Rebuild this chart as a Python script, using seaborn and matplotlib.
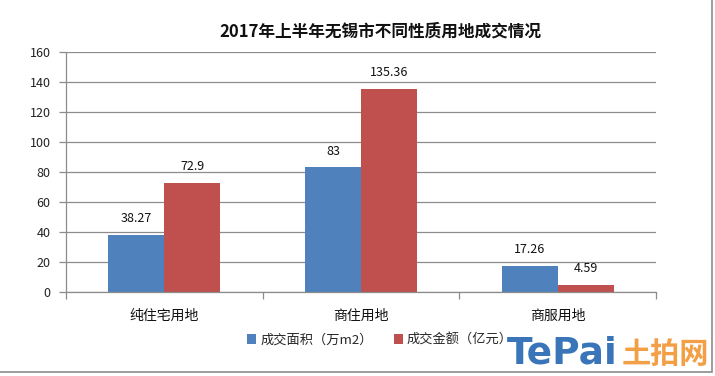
import numpy as np
import pandas as pd
import matplotlib
matplotlib.use("Agg")
import matplotlib.pyplot as plt
import seaborn as sns
from matplotlib.patches import Rectangle

# ==================== 数据 ====================
categories = ["纯住宅用地", "商住用地", "商服用地"]
series_names = ["成交面积（万m2）", "成交金额（亿元）"]
area_values = [38.27, 83, 17.26]
amount_values = [72.9, 135.36, 4.59]
area_labels = ["38.27", "83", "17.26"]
amount_labels = ["72.9", "135.36", "4.59"]
y_ticks = [0, 20, 40, 60, 80, 100, 120, 140, 160]
title = "2017年上半年无锡市不同性质用地成交情况"

colors = ["#4F81BD", "#C0504D"]

sns.set_theme(style="white")
plt.rcParams['font.family'] = ['Noto Sans CJK SC', 'DejaVu Sans']
plt.rcParams['axes.unicode_minus'] = False

df = pd.DataFrame({
    "类别": categories * 2,
    "系列": [series_names[0]] * 3 + [series_names[1]] * 3,
    "值": area_values + amount_values,
})

fig = plt.figure(figsize=(7.15, 3.76), dpi=100)
ax = fig.add_axes([66 / 715, 1 - 292 / 376, 590 / 715, 240 / 376])

sns.barplot(data=df, x="类别", y="值", hue="系列", palette=colors,
            width=0.57, saturation=1, linewidth=0, ax=ax, legend=True)

# 网格与坐标轴
ax.set_ylim(0, 160)
ax.set_xlim(-0.5, 2.5)
ax.set_yticks(y_ticks)
ax.set_yticklabels([str(t) for t in y_ticks], fontsize=9, color="#222222")
ax.yaxis.grid(True, color="#8C8C8C", linewidth=0.9)
ax.set_axisbelow(True)
ax.set_xlabel("")
ax.set_ylabel("")
for side in ["top", "right"]:
    ax.spines[side].set_visible(False)
for side in ["left", "bottom"]:
    ax.spines[side].set_color("#8C8C8C")
    ax.spines[side].set_linewidth(0.9)

ax.tick_params(axis="y", direction="out", length=5, color="#8C8C8C", width=0.9, pad=6, left=True)
ax.set_xticks(range(len(categories)))
ax.set_xticklabels(categories, fontsize=10, color="#111111")
ax.tick_params(axis="x", which="major", length=0, pad=12)
ax.set_xticks([-0.5, 0.5, 1.5, 2.5], minor=True)
ax.tick_params(axis="x", which="minor", direction="out", length=5, color="#8C8C8C", width=0.9, bottom=True)

# 数据标签
for container, labels in zip(ax.containers, [area_labels, amount_labels]):
    ax.bar_label(container, labels=labels, padding=7, fontsize=9, color="#111111")

# 图例
handles, _ = ax.get_legend_handles_labels()
ax.legend(handles, series_names, loc="center", bbox_to_anchor=(380 / 715, 1 - 340 / 376),
          bbox_transform=fig.transFigure, ncol=2, frameon=False, fontsize=9.5,
          handlelength=0.7, handleheight=0.7, handletextpad=0.3, columnspacing=1.6)

ax.set_title("")
fig.text(380 / 715, 1 - 31 / 376, title, ha="center", va="center",
         fontsize=12, fontweight="bold", color="#111111")

# 水印
fig.text(507 / 715, 1 - 354 / 376, "TePai", ha="left", va="center", fontsize=27,
         fontweight="bold", color="#2F6DB5", family="DejaVu Sans", alpha=0.95, zorder=5)
fig.text(622 / 715, 1 - 354 / 376, "土拍网", ha="left", va="center", fontsize=21,
         fontweight="bold", color="#F39A3B", alpha=0.95, zorder=5)

# 外框
fig.patches.append(Rectangle((-0.01, 4 / 376), (712 / 715) + 0.01, 1.1, transform=fig.transFigure,
                             fill=False, edgecolor="#8C8C8C", linewidth=1.2))

fig.savefig("out.png", dpi=100)
